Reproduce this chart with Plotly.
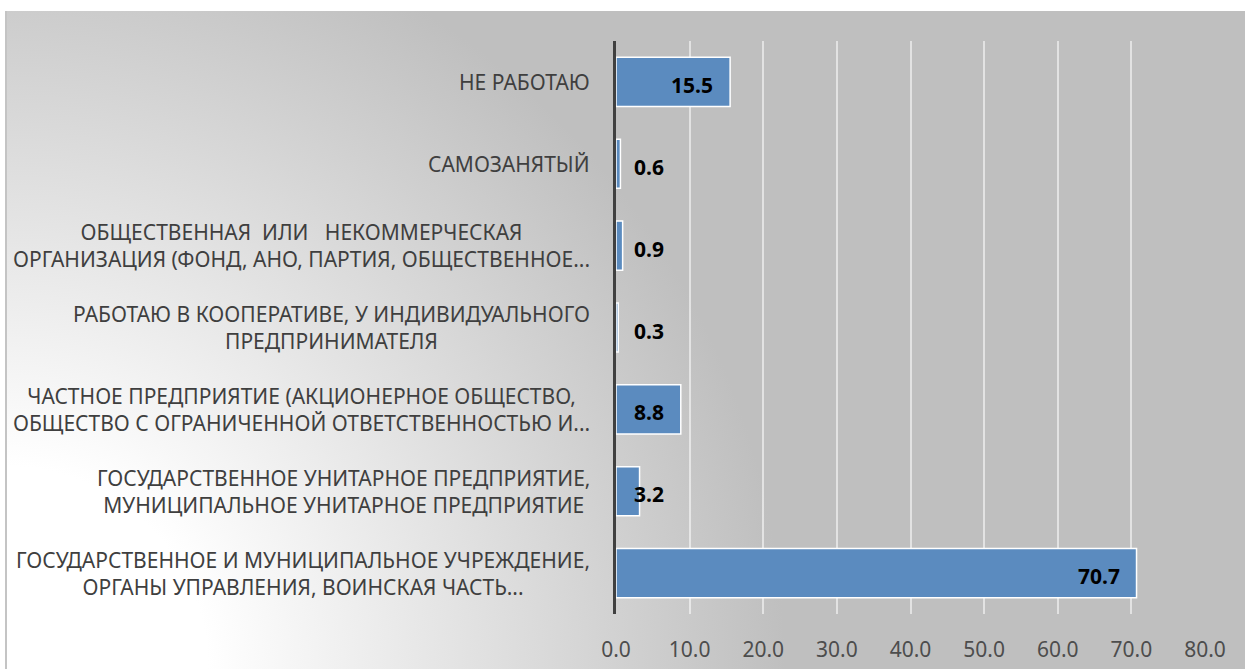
import base64

import plotly.graph_objects as go

# categories, top to bottom as shown
labels = [
    "НЕ РАБОТАЮ",
    "САМОЗАНЯТЫЙ",
    "ОБЩЕСТВЕННАЯ\u00a0 ИЛИ \u00a0 НЕКОММЕРЧЕСКАЯ<br>ОРГАНИЗАЦИЯ (ФОНД, АНО, ПАРТИЯ, ОБЩЕСТВЕННОЕ...",
    "РАБОТАЮ В КООПЕРАТИВЕ, У ИНДИВИДУАЛЬНОГО<br>ПРЕДПРИНИМАТЕЛЯ",
    "ЧАСТНОЕ ПРЕДПРИЯТИЕ (АКЦИОНЕРНОЕ ОБЩЕСТВО,<br>ОБЩЕСТВО С ОГРАНИЧЕННОЙ ОТВЕТСТВЕННОСТЬЮ И...",
    "ГОСУДАРСТВЕННОЕ УНИТАРНОЕ ПРЕДПРИЯТИЕ,<br>МУНИЦИПАЛЬНОЕ УНИТАРНОЕ ПРЕДПРИЯТИЕ",
    "ГОСУДАРСТВЕННОЕ И МУНИЦИПАЛЬНОЕ УЧРЕЖДЕНИЕ,<br>ОРГАНЫ УПРАВЛЕНИЯ, ВОИНСКАЯ ЧАСТЬ...",
]
values = [15.5, 0.6, 0.9, 0.3, 8.8, 3.2, 70.7]
x_ticks = [0, 10, 20, 30, 40, 50, 60, 70, 80]

W, H = 1245, 669
ML, MR, MT, MB = 616, 40, 41, 55
FONT = "Noto Sans, Open Sans, sans-serif"

# background: grey panel with a white radial glow from the bottom-left corner
bg_w, bg_h = W - 5, H - 11
svg = (
    f'<svg xmlns="http://www.w3.org/2000/svg" width="{bg_w}" height="{bg_h}" '
    f'viewBox="0 0 {bg_w} {bg_h}" preserveAspectRatio="none">'
    f'<defs><radialGradient id="g" cx="0" cy="{bg_h}" r="780" gradientUnits="userSpaceOnUse">'
    '<stop offset="0.26" stop-color="#ffffff"/><stop offset="1" stop-color="#bfbfbf"/>'
    "</radialGradient></defs>"
    f'<rect x="0" y="0" width="{bg_w}" height="{bg_h}" fill="url(#g)"/>'
    f'<line x1="1" y1="0" x2="1" y2="{bg_h}" stroke="#c4c4c4" stroke-width="2"/>'
    "</svg>"
)
bg_src = "data:image/svg+xml;base64," + base64.b64encode(svg.encode("utf-8")).decode()
pw, ph = W - ML - MR, H - MT - MB

fig = go.Figure()
fig.add_trace(
    go.Bar(
        x=values,
        y=labels,
        orientation="h",
        width=0.6,
        marker=dict(color="#5b8bbf", line=dict(color="#ffffff", width=1.5)),
        hoverinfo="skip",
    )
)

annotations = []
# category labels, centred lines, block right-aligned left of the axis
for lab in labels:
    annotations.append(
        dict(
            x=0, y=lab, xref="x", yref="y",
            text=lab, showarrow=False,
            xanchor="right", yanchor="middle", align="center",
            xshift=-24,
            font=dict(family=FONT, size=21, color="#3f3f3f"),
        )
    )
# value labels: inside end for long bars, just right of the axis for short ones
for lab, v in zip(labels, values):
    inside = v >= 5
    annotations.append(
        dict(
            x=v if inside else 0, y=lab, xref="x", yref="y",
            text=f"<b>{v:.1f}</b>", showarrow=False,
            xanchor="right" if inside else "left", yanchor="middle",
            xshift=-15 if inside else 16, yshift=-3,
            font=dict(family=FONT, size=21, color="#000000"),
        )
    )

fig.update_layout(
    width=W,
    height=H,
    margin=dict(l=ML, r=MR, t=MT, b=MB),
    paper_bgcolor="#ffffff",
    plot_bgcolor="rgba(0,0,0,0)",
    showlegend=False,
    bargap=0.4,
    annotations=annotations,
    images=[
        dict(
            source=bg_src,
            xref="paper", yref="paper",
            x=(5 - ML) / pw, y=(H - MB - 11) / ph,
            sizex=bg_w / pw, sizey=bg_h / ph,
            xanchor="left", yanchor="top",
            sizing="stretch", layer="below",
        )
    ],
    xaxis=dict(
        range=[0, 80],
        tickvals=x_ticks,
        tickformat=".1f",
        showgrid=True,
        gridcolor="rgba(255,255,255,0.55)",
        gridwidth=2,
        zeroline=False,
        showline=False,
        ticks="",
        ticklabelstandoff=21,
        tickfont=dict(family=FONT, size=21, color="#4d4d4d"),
        automargin=False,
        fixedrange=True,
    ),
    yaxis=dict(
        autorange="reversed",
        showticklabels=False,
        showgrid=False,
        zeroline=False,
        showline=True,
        linecolor="#404040",
        linewidth=3,
        ticks="",
        automargin=False,
        fixedrange=True,
    ),
)

fig.write_html(
    "out.html",
    config={"displayModeBar": False},
    post_script="document.body.style.margin='0';",
)
